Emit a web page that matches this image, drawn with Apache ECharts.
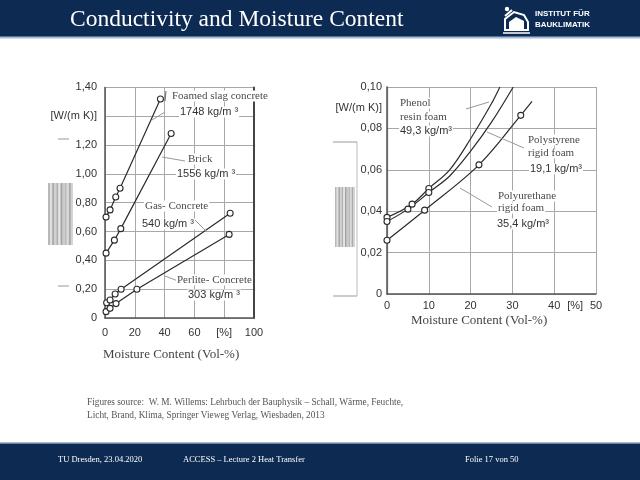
<!DOCTYPE html>
<html>
<head>
<meta charset="utf-8">
<script src="https://cdn.jsdelivr.net/npm/echarts@6/dist/echarts.min.js"></script>
<style>html,body{margin:0;padding:0;background:#fff}#c{width:640px;height:480px}</style>
</head>
<body>
<div id="c"></div>
<script>
// ---- Left chart data (moisture content [Vol-%] vs conductivity [W/(m K)]) ----
const foamedSlagX = [0.7, 3.4, 7.2, 10.1, 37.2];
const foamedSlagY = [0.70, 0.75, 0.84, 0.90, 1.52];
const brickX = [0.7, 6.3, 10.6, 44.4];
const brickY = [0.45, 0.54, 0.62, 1.28];
const gasConcreteX = [1.1, 3.4, 6.8, 10.8, 84.0];
const gasConcreteY = [0.106, 0.125, 0.167, 0.20, 0.727];
const perliteX = [0.7, 3.4, 7.4, 21.4, 83.3];
const perliteY = [0.044, 0.067, 0.10, 0.20, 0.58];

// ---- Right chart data ----
const phenolX = [0, 6, 10, 15, 20, 25, 27];
const phenolY = [0.037, 0.0434, 0.051, 0.060, 0.075, 0.092, 0.100];
const phenolMarked = 3;
const polystyreneX = [0, 5, 10, 15, 20, 25, 30.2];
const polystyreneY = [0.035, 0.041, 0.049, 0.057, 0.069, 0.083, 0.100];
const polystyreneMarked = 3;
const polyurethaneX = [0, 9, 22, 32, 34.7];
const polyurethaneY = [0.026, 0.0405, 0.0624, 0.0863, 0.093];
const polyurethaneMarked = 4;

// ---- Tick labels ----
const leftXTickLabels = ['0', '20', '40', '60', '[%]', '100'];
const leftYTickLabels = ['0', '0,20', '0,40', '0,60', '0,80', '1,00', '1,20', '[W/(m K)]', '1,40'];
const rightXTickLabels = ['0', '', '10', '', '20', '', '30', '', '40', '[%]', '50'];
const rightYTickLabels = ['0', '', '0,02', '', '0,04', '', '0,06', '', '0,08', '[W/(m K)]', '0,10'];

const SANS = '"Liberation Sans", Arial, sans-serif';
const SERIF = '"Liberation Serif", "DejaVu Serif", serif';

function pts(xs, ys, marked) {
  return xs.map((x, i) => ({
    value: [x, ys[i]],
    symbol: (marked === undefined || i < marked) ? 'circle' : 'none'
  }));
}

function lineSeries(name, xi, yi, data, smooth) {
  return {
    name, type: 'line', xAxisIndex: xi, yAxisIndex: yi, data,
    smooth: smooth ? 0.35 : false,
    symbolSize: 6,
    lineStyle: { color: '#2b2b2b', width: 1.2 },
    itemStyle: { color: '#fff', borderColor: '#2b2b2b', borderWidth: 1.1 },
    emphasis: { disabled: true },
    animation: false, z: 3
  };
}

const chart = echarts.init(document.getElementById('c'), null, { renderer: 'canvas' });

function t(text, x, y, font, fill, extra) {
  return Object.assign({
    type: 'text', z: 5,
    style: { text, x, y, font, fill, verticalAlign: 'middle', backgroundColor: '#fff', padding: [0, 1] }
  }, extra || {});
}
function ln(x1, y1, x2, y2, color, w, z) {
  return { type: 'line', z: z || 4, shape: { x1, y1, x2, y2 }, style: { stroke: color || '#999', lineWidth: w || 1 } };
}
function stripes(x0, y0, w, h) {
  const shades = ['#9a9a9a', '#d0d0d0', '#858585', '#bdbdbd', '#8f8f8f', '#d8d8d8', '#7a7a7a', '#b5b5b5', '#9d9d9d', '#cacaca', '#888', '#c2c2c2'];
  const out = [];
  const sw = w / shades.length;
  shades.forEach((c, i) => {
    out.push({ type: 'rect', z: 1, shape: { x: x0 + i * sw, y: y0, width: sw, height: h }, style: { fill: c, opacity: 0.7 } });
  });
  return out;
}

const graphics = [
  // header
  { type: 'rect', shape: { x: 0, y: 0, width: 640, height: 37 }, style: { fill: '#0c2a52' } },
  { type: 'rect', shape: { x: 0, y: 36.5, width: 640, height: 2 }, style: { fill: '#a3bcd8' } },
  { type: 'text', style: { text: 'Conductivity and Moisture Content', x: 70, y: 20, font: '23.5px ' + SERIF, fill: '#ffffff', verticalAlign: 'middle' } },
  // logo
  { type: 'polygon', shape: { points: [[505, 30], [505, 19], [514, 12], [524, 15], [528, 22], [528, 30]] }, style: { fill: 'none', stroke: '#fff', lineWidth: 2 } },
  { type: 'polygon', shape: { points: [[509, 30], [509, 22], [516, 17], [524, 21], [524, 30]] }, style: { fill: '#fff' } },
  { type: 'circle', shape: { cx: 507, cy: 9, r: 2.2 }, style: { fill: '#fff' } },
  ln(505, 16, 512, 10, '#fff', 2, 1),
  ln(503, 33, 530, 33, '#fff', 1.5, 1),
  { type: 'text', style: { text: 'INSTITUT FÜR', x: 535, y: 14, font: 'bold 8px ' + SANS, fill: '#fff', verticalAlign: 'middle' } },
  { type: 'text', style: { text: 'BAUKLIMATIK', x: 535, y: 25, font: 'bold 8px ' + SANS, fill: '#fff', verticalAlign: 'middle' } },
  // footer
  { type: 'rect', shape: { x: 0, y: 442, width: 640, height: 1.5 }, style: { fill: '#a3bcd8' } },
  { type: 'rect', shape: { x: 0, y: 443.5, width: 640, height: 36.5 }, style: { fill: '#0c2a52' } },
  { type: 'text', style: { text: 'TU Dresden, 23.04.2020', x: 58, y: 460, font: '8.5px ' + SERIF, fill: '#fff', verticalAlign: 'middle' } },
  { type: 'text', style: { text: 'ACCESS – Lecture 2 Heat Transfer', x: 183, y: 460, font: '8.5px ' + SERIF, fill: '#fff', verticalAlign: 'middle' } },
  { type: 'text', style: { text: 'Folie 17 von 50', x: 465, y: 460, font: '8.5px ' + SERIF, fill: '#fff', verticalAlign: 'middle' } },
  // caption
  { type: 'text', style: { text: 'Figures source:  W. M. Willems: Lehrbuch der Bauphysik – Schall, Wärme, Feuchte,', x: 87, y: 403, font: '9.3px ' + SERIF, fill: '#555', verticalAlign: 'middle' } },
  { type: 'text', style: { text: 'Licht, Brand, Klima, Springer Vieweg Verlag, Wiesbaden, 2013', x: 87, y: 416, font: '9.3px ' + SERIF, fill: '#555', verticalAlign: 'middle' } },
  // axis titles
  { type: 'text', style: { text: 'Moisture Content (Vol-%)', x: 103, y: 355, font: '13px ' + SERIF, fill: '#444', verticalAlign: 'middle' } },
  { type: 'text', style: { text: 'Moisture Content (Vol-%)', x: 411, y: 321, font: '13px ' + SERIF, fill: '#444', verticalAlign: 'middle' } },
  // scan artifacts
  ...stripes(48, 183, 25, 62),
  ln(58, 139, 69, 139, '#999', 1, 1),
  ln(58, 286, 69, 286, '#999', 1, 1),
  ...stripes(335, 187, 20, 60),
  ln(333, 142, 357, 142, '#999', 1, 1),
  ln(333, 296, 357, 296, '#999', 1, 1),
  ln(357, 142, 357, 296, '#bbb', 1, 1),
  // leader lines left
  ln(152, 120, 165, 112),
  ln(166, 91, 165, 101, '#666'),
  ln(162, 157, 185, 161),
  ln(194, 219, 207, 232),
  ln(165, 276, 178, 281),
  // leader lines right
  ln(466, 109, 489, 102),
  ln(487, 132, 524, 148),
  ln(460, 188, 492, 207),
  // annotations left
  t('Foamed slag concrete', 171, 96, '11px ' + SERIF, '#4a4a4a'),
  t('1748 kg/m ³', 179, 112, '11px ' + SANS, '#333'),
  t('Brick', 187, 159, '11px ' + SERIF, '#4a4a4a'),
  t('1556 kg/m ³', 176, 174, '11px ' + SANS, '#333'),
  t('Gas- Concrete', 144, 206, '11px ' + SERIF, '#4a4a4a'),
  t('540 kg/m ³', 141, 224, '11px ' + SANS, '#333'),
  t('Perlite- Concrete', 176, 280, '11px ' + SERIF, '#4a4a4a'),
  t('303 kg/m ³', 187, 295, '11px ' + SANS, '#333'),
  // annotations right
  t('Phenol', 399, 103, '11px ' + SERIF, '#4a4a4a'),
  t('resin foam', 399, 117, '11px ' + SERIF, '#4a4a4a'),
  t('49,3 kg/m³', 399, 131, '11px ' + SANS, '#333'),
  t('Polystyrene', 527, 140, '11px ' + SERIF, '#4a4a4a'),
  t('rigid foam', 527, 153, '11px ' + SERIF, '#4a4a4a'),
  t('19,1 kg/m³', 529, 169, '11px ' + SANS, '#333'),
  t('Polyurethane', 497, 196, '11px ' + SERIF, '#4a4a4a'),
  t('rigid foam', 497, 208, '11px ' + SERIF, '#4a4a4a'),
  t('35,4 kg/m³', 496, 224, '11px ' + SANS, '#333')
];

const option = {
  backgroundColor: '#fff',
  animation: false,
  grid: [
    { left: 105, top: 87.4, width: 149, height: 230.6, containLabel: false },
    { left: 387, top: 87, width: 209, height: 207, containLabel: false }
  ],
  xAxis: [
    {
      gridIndex: 0, type: 'value', min: 0, max: 100, interval: 20,
      axisLine: { show: true, lineStyle: { color: '#555', width: 1.5 } },
      axisTick: { show: false },
      axisLabel: { margin: 9, color: '#333', fontSize: 11, fontFamily: SANS, formatter: v => leftXTickLabels[Math.round(v / 20)] },
      splitLine: { show: true, lineStyle: { color: '#a8a8a8', width: 1 } }
    },
    {
      gridIndex: 1, type: 'value', min: 0, max: 50, interval: 5,
      axisLine: { show: true, lineStyle: { color: '#555', width: 1.5 } },
      axisTick: { show: false },
      axisLabel: { margin: 6, color: '#333', fontSize: 11, fontFamily: SANS, formatter: v => rightXTickLabels[Math.round(v / 5)] },
      splitLine: { show: false }
    },
    {
      gridIndex: 1, type: 'value', min: 0, max: 50, interval: 10,
      axisLine: { show: false }, axisTick: { show: false }, axisLabel: { show: false },
      splitLine: { show: true, lineStyle: { color: '#a8a8a8', width: 1 } }
    }
  ],
  yAxis: [
    {
      gridIndex: 0, type: 'value', min: 0, max: 1.6, interval: 0.2,
      axisLine: { show: true, lineStyle: { color: '#555', width: 1.5 } },
      axisTick: { show: false },
      axisLabel: { margin: 8, color: '#333', fontSize: 11, fontFamily: SANS, formatter: v => leftYTickLabels[Math.round(v / 0.2)] },
      splitLine: { show: true, lineStyle: { color: '#a8a8a8', width: 1 } }
    },
    {
      gridIndex: 0, type: 'value', position: 'right', min: 0, max: 1.6, interval: 0.2,
      axisLine: { show: true, lineStyle: { color: '#444', width: 2 } },
      axisTick: { show: false }, axisLabel: { show: false }, splitLine: { show: false }
    },
    {
      gridIndex: 1, type: 'value', min: 0, max: 0.1, interval: 0.01,
      axisLine: { show: true, lineStyle: { color: '#555', width: 1.5 } },
      axisTick: { show: false },
      axisLabel: { margin: 5, color: '#333', fontSize: 11, fontFamily: SANS, formatter: v => rightYTickLabels[Math.round(v / 0.01)] },
      splitLine: { show: false }
    },
    {
      gridIndex: 1, type: 'value', position: 'right', min: 0, max: 0.1, interval: 0.02,
      axisLine: { show: true, lineStyle: { color: '#666', width: 1.2 } },
      axisTick: { show: false }, axisLabel: { show: false },
      splitLine: { show: true, lineStyle: { color: '#a8a8a8', width: 1 } }
    }
  ],
  series: [
    lineSeries('Foamed slag concrete', 0, 0, pts(foamedSlagX, foamedSlagY), false),
    lineSeries('Brick', 0, 0, pts(brickX, brickY), false),
    lineSeries('Gas- Concrete', 0, 0, pts(gasConcreteX, gasConcreteY), false),
    lineSeries('Perlite- Concrete', 0, 0, pts(perliteX, perliteY), false),
    lineSeries('Phenol resin foam', 1, 2, pts(phenolX, phenolY, phenolMarked), true),
    lineSeries('Polystyrene rigid foam', 1, 2, pts(polystyreneX, polystyreneY, polystyreneMarked), true),
    lineSeries('Polyurethane rigid foam', 1, 2, pts(polyurethaneX, polyurethaneY, polyurethaneMarked), true)
  ],
  graphic: graphics
};
chart.setOption(option);
</script>
</body>
</html>
